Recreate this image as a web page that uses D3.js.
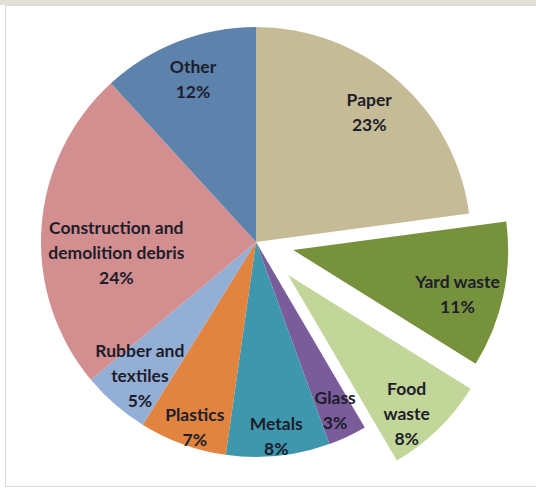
<!DOCTYPE html>
<html>
<head>
<meta charset="utf-8">
<script src="https://cdn.jsdelivr.net/npm/d3@7"></script>
<style>
  body { margin: 0; background: #fff; }
  svg { display: block; }
</style>
</head>
<body>
<div id="chart"></div>
<script>
var width  = 536;
var height = 489;

// data, clockwise from 12 o'clock
var categories = ["Paper", "Yard waste", "Food waste", "Glass", "Metals", "Plastics",
                  "Rubber and textiles", "Construction and demolition debris", "Other"];
var shares     = [22.9, 11.0, 7.7, 2.9, 7.8, 6.6, 5.1, 24.3, 11.8];
var pctLabels  = ["23%", "11%", "8%", "3%", "8%", "7%", "5%", "24%", "12%"];

// how each label is broken over lines
var labelLines = {
    "Paper": ["Paper"],
    "Yard waste": ["Yard waste"],
    "Food waste": ["Food", "waste"],
    "Glass": ["Glass"],
    "Metals": ["Metals"],
    "Plastics": ["Plastics"],
    "Rubber and textiles": ["Rubber and", "textiles"],
    "Construction and demolition debris": ["Construction and", "demolition debris"],
    "Other": ["Other"]
};

var color = d3.scaleOrdinal()
    .domain(categories)
    .range(["#c5bc97", "#76923c", "#c2d69a", "#7b5c9a", "#3e97ac", "#e0843f",
            "#94afd6", "#d38f8f", "#5d83ad"]);

// layout
var cx = 256, cy = 242, radius = 215;
var explode  = {"Yard waste": 38, "Food waste": 46};
var labelR   = {"Paper": 172, "Yard waste": 166, "Food waste": 180, "Glass": 186,
                "Metals": 196, "Plastics": 194, "Rubber and textiles": 177,
                "Construction and demolition debris": 140, "Other": 174};
// small nudges where the chart placed a label off its centroid
var labelNudge = {"Construction and demolition debris": [0, 20],
                  "Yard waste": [2, 10], "Food waste": [-7, 10], "Plastics": [5, 3]};

var svg = d3.select("#chart").append("svg")
    .attr("width", width)
    .attr("height", height);

// page strip and frame
svg.append("rect")
    .attr("x", 0).attr("y", 0)
    .attr("width", width).attr("height", 5)
    .attr("fill", "#e1e0d2");

svg.append("rect")
    .attr("x", 5.5).attr("y", 5.5)
    .attr("width", width + 10).attr("height", 481)
    .attr("fill", "#fff")
    .attr("stroke", "#dcdcdc");

var pie = d3.pie()
    .value(function(d) { return d.value; })
    .sort(null);

var arc = d3.arc()
    .innerRadius(0)
    .outerRadius(radius);

var data = categories.map(function(c, i) {
    return { name: c, value: shares[i], pct: pctLabels[i] };
});

var arcs = pie(data);

function offset(d) {
    var e = explode[d.data.name] || 0;
    var a = (d.startAngle + d.endAngle) / 2;
    return [Math.sin(a) * e, -Math.cos(a) * e];
}

var g = svg.append("g")
    .attr("transform", "translate(" + cx + "," + cy + ")");

g.selectAll("path")
    .data(arcs)
    .enter().append("path")
    .attr("d", arc)
    .attr("fill", function(d) { return color(d.data.name); })
    .attr("transform", function(d) {
        var o = offset(d);
        return "translate(" + o[0] + "," + o[1] + ")";
    });

var lineH = 25;

var label = g.selectAll(".label")
    .data(arcs)
    .enter().append("text")
    .attr("class", "label")
    .attr("text-anchor", "middle")
    .attr("font-family", "Lato, 'Open Sans', sans-serif")
    .attr("font-weight", "bold")
    .attr("font-size", "17.5px")
    .attr("fill", "#1d1d2b")
    .attr("transform", function(d) {
        var o = offset(d);
        var r = labelR[d.data.name];
        var c = d3.arc().innerRadius(r).outerRadius(r).centroid(d);
        var n = labelNudge[d.data.name] || [0, 0];
        return "translate(" + (c[0] + o[0] + n[0]) + "," + (c[1] + o[1] + n[1]) + ")";
    });

label.each(function(d) {
    var lines = labelLines[d.data.name].concat([d.data.pct]);
    var t = d3.select(this);
    var y0 = -(lines.length - 1) * lineH / 2 + 6;
    lines.forEach(function(s, i) {
        t.append("tspan")
            .attr("x", 0)
            .attr("y", y0 + i * lineH)
            .text(s);
    });
});
</script>
</body>
</html>
